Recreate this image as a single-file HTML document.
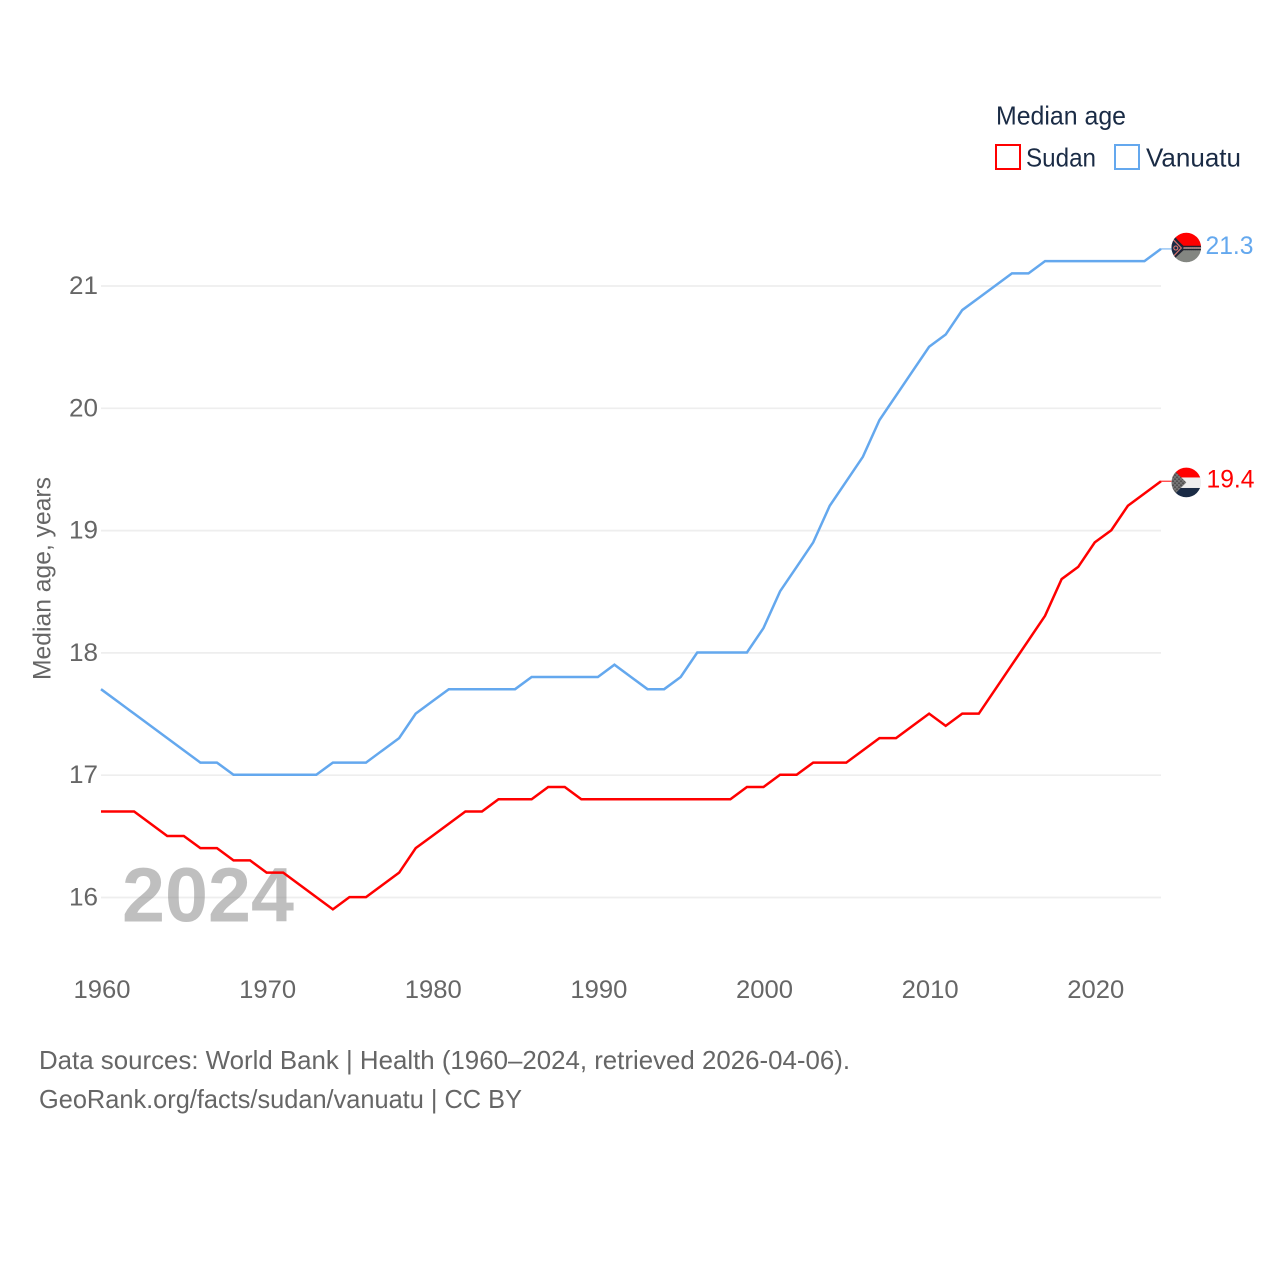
<!DOCTYPE html>
<html lang="en">
<head>
<meta charset="utf-8">
<title>Median age: Sudan and Vanuatu</title>
<style>
html,body{margin:0;padding:0;background:#fff;width:1280px;height:1280px;overflow:hidden}
svg{display:block}
text{font-family:"Liberation Sans",sans-serif}
</style>
</head>
<body>
<svg id="chart" xmlns="http://www.w3.org/2000/svg" width="1280" height="1280" viewBox="0 0 1280 1280">
  <defs>
    <clipPath id="flag-clip"><circle cx="0" cy="0" r="14.8"/></clipPath>
    <pattern id="dither-green" width="2" height="2" patternUnits="userSpaceOnUse">
      <rect width="2" height="2" fill="#9a9a96"/>
      <rect width="1" height="1" fill="#6c726c"/>
      <rect x="1" y="1" width="1" height="1" fill="#6c726c"/>
    </pattern>
    <pattern id="dither-dark" width="4" height="4" patternUnits="userSpaceOnUse">
      <rect width="4" height="4" fill="#747474"/>
      <rect width="1.4" height="1.4" fill="#3c3c3c"/>
      <rect x="2" y="2" width="1.4" height="1.4" fill="#3c3c3c"/>
    </pattern>
  </defs>
  <rect width="1280" height="1280" fill="#fff"/>

  <text x="996" y="124.5" font-size="26" fill="#1a2b45" textLength="130" lengthAdjust="spacingAndGlyphs">Median age</text>
  <g>
    <rect x="996" y="145" width="24" height="24" fill="none" stroke="#ff0000" stroke-width="2"/>
    <text x="1026" y="166.5" font-size="26" fill="#1a2b45" textLength="70" lengthAdjust="spacingAndGlyphs">Sudan</text>
  </g>
  <g>
    <rect x="1115" y="145" width="24" height="24" fill="none" stroke="#64a8ee" stroke-width="2"/>
    <text x="1146" y="166.5" font-size="26" fill="#1a2b45" textLength="95" lengthAdjust="spacingAndGlyphs">Vanuatu</text>
  </g>

  <text transform="translate(50.5 680) rotate(-90)" font-size="25" fill="#666" textLength="203" lengthAdjust="spacingAndGlyphs">Median age, years</text>

  <g id="grid"></g>
  <g id="y-labels"></g>
  <g id="x-labels"></g>

  <text x="122" y="921.5" font-size="77" font-weight="700" fill="#808080" fill-opacity="0.5" textLength="172" lengthAdjust="spacingAndGlyphs">2024</text>

  <g id="series"></g>

  <text x="39" y="1069" font-size="26" fill="#666" textLength="811" lengthAdjust="spacingAndGlyphs">Data sources: World Bank | Health (1960–2024, retrieved 2026-04-06).</text>
  <text x="39" y="1108" font-size="26" fill="#666" textLength="483" lengthAdjust="spacingAndGlyphs">GeoRank.org/facts/sudan/vanuatu | CC BY</text>
</svg>
<script>
const years = [1960,1961,1962,1963,1964,1965,1966,1967,1968,1969,1970,1971,1972,1973,1974,1975,1976,1977,1978,1979,1980,1981,1982,1983,1984,1985,1986,1987,1988,1989,1990,1991,1992,1993,1994,1995,1996,1997,1998,1999,2000,2001,2002,2003,2004,2005,2006,2007,2008,2009,2010,2011,2012,2013,2014,2015,2016,2017,2018,2019,2020,2021,2022,2023,2024];
const sudanValues = [16.7,16.7,16.7,16.6,16.5,16.5,16.4,16.4,16.3,16.3,16.2,16.2,16.1,16.0,15.9,16.0,16.0,16.1,16.2,16.4,16.5,16.6,16.7,16.7,16.8,16.8,16.8,16.9,16.9,16.8,16.8,16.8,16.8,16.8,16.8,16.8,16.8,16.8,16.8,16.9,16.9,17.0,17.0,17.1,17.1,17.1,17.2,17.3,17.3,17.4,17.5,17.4,17.5,17.5,17.7,17.9,18.1,18.3,18.6,18.7,18.9,19.0,19.2,19.3,19.4];
const vanuatuValues = [17.7,17.6,17.5,17.4,17.3,17.2,17.1,17.1,17.0,17.0,17.0,17.0,17.0,17.0,17.1,17.1,17.1,17.2,17.3,17.5,17.6,17.7,17.7,17.7,17.7,17.7,17.8,17.8,17.8,17.8,17.8,17.9,17.8,17.7,17.7,17.8,18.0,18.0,18.0,18.0,18.2,18.5,18.7,18.9,19.2,19.4,19.6,19.9,20.1,20.3,20.5,20.6,20.8,20.9,21.0,21.1,21.1,21.2,21.2,21.2,21.2,21.2,21.2,21.2,21.3];
const yTicks = [16,17,18,19,20,21];
const xTicks = [1960,1970,1980,1990,2000,2010,2020];

const NS = 'http://www.w3.org/2000/svg';
const X0 = 101, X1 = 1161;
function xScale(year){ return X0 + (year - 1960) * (X1 - X0) / (2024 - 1960); }
function yScale(v){ return 897.5 - (v - 16) * (897.5 - 286) / (21 - 16); }
function make(tag, attrs, parent){
  const el = document.createElementNS(NS, tag);
  for (const k in attrs) el.setAttribute(k, attrs[k]);
  parent.appendChild(el);
  return el;
}

const grid = document.getElementById('grid');
const yLabels = document.getElementById('y-labels');
const xLabels = document.getElementById('x-labels');
const seriesLayer = document.getElementById('series');

yTicks.forEach(function(t){
  const line = make('line', {x1:X0, x2:X1, y1:yScale(t), y2:yScale(t), stroke:'#eeeeee', 'stroke-width':1.7}, grid);
  
  
  const label = make('text', {x:98, y:yScale(t)+8, 'text-anchor':'end', 'font-size':25, fill:'#666', textLength:29, lengthAdjust:'spacingAndGlyphs'}, yLabels);
  
  
  label.textContent = t;
});

xTicks.forEach(function(t){
  const label = make('text', {x:xScale(t)+1, y:998, 'text-anchor':'middle', 'font-size':25, fill:'#666', textLength:57, lengthAdjust:'spacingAndGlyphs'}, xLabels);
  
  
  label.textContent = t;
});

function drawSeries(key, values, color, flagDy, labelX, labelDy, drawFlag){
  const group = make('g', {}, seriesLayer);
  
  

  const pts = values.map(function(v, i){ return xScale(years[i]).toFixed(2) + ',' + (yScale(v) - 0.4).toFixed(2); }).join(' ');
  const line = make('polyline', {points:pts, fill:'none', stroke:color, 'stroke-width':2.5, 'stroke-linejoin':'miter'}, group);
  
  

  const last = values[values.length - 1];
  const lastX = xScale(years[years.length - 1]);
  const lastY = yScale(last) - 0.4;
  const leader = make('line', {x1:lastX, x2:lastX+11, y1:lastY, y2:lastY, stroke:color, 'stroke-width':1.4, 'stroke-opacity':0.7}, group);
  
  

  const flag = make('g', {transform:'translate(' + (lastX + 25.3) + ' ' + (lastY + flagDy) + ')', 'clip-path':'url(#flag-clip)'}, group);
  
  
  drawFlag(flag);

  const label = make('text', {x:labelX, y:lastY + labelDy, 'font-size':25, fill:color, textLength:48, lengthAdjust:'spacingAndGlyphs'}, group);
  
  
  label.textContent = last.toFixed(1);
}

function sudanFlag(g){
  make('rect', {x:-16, y:-16, width:32, height:11, fill:'#ff0000'}, g);
  make('rect', {x:-16, y:-5, width:32, height:10.5, fill:'#eeeeee'}, g);
  make('rect', {x:-16, y:5.5, width:32, height:11, fill:'#1a2b45'}, g);
  make('polygon', {points:'-16,-16 0,0 -16,16', fill:'url(#dither-dark)'}, g);
}
function vanuatuFlag(g){
  make('rect', {x:-16, y:-16, width:32, height:15, fill:'#ff0000'}, g);
  make('rect', {x:-16, y:-1, width:32, height:17, fill:'url(#dither-green)'}, g);
  make('polygon', {points:'-16,-16 -2,0 -16,16', fill:'#1a2b45'}, g);
  make('polyline', {points:'-16,-13 -3,-1 16,-1', fill:'none', stroke:'#22222e', 'stroke-width':1.4}, g);
  make('polyline', {points:'-16,14 -3,2 16,2', fill:'none', stroke:'#22222e', 'stroke-width':1.4}, g);
  make('polyline', {points:'-16,-11 -5,0.5 -16,12', fill:'none', stroke:'#d9736a', 'stroke-width':1.2}, g);
  make('polyline', {points:'-3,0.5 16,0.5', fill:'none', stroke:'#d9a0a0', 'stroke-width':1}, g);
  make('circle', {cx:-10.5, cy:0.5, r:2, fill:'none', stroke:'#e0766e', 'stroke-width':1.1}, g);
}

drawSeries('sudan', sudanValues, '#ff0000', 1.2, 1206.5, 6, sudanFlag);
drawSeries('vanuatu', vanuatuValues, '#64a8ee', -1.4, 1205.5, 5, vanuatuFlag);
</script>
</body>
</html>
